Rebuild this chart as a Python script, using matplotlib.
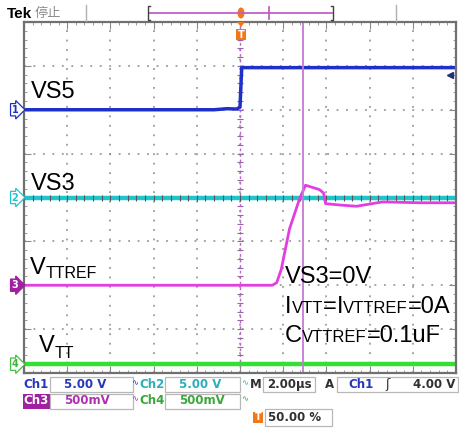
import numpy as np
import matplotlib.pyplot as plt
from matplotlib.patches import Rectangle, Ellipse, Polygon
from matplotlib.lines import Line2D

# scope settings
t_div = 2.0                      # us / div
ch1_scale, ch2_scale = 5.0, 5.0  # V / div
ch3_scale, ch4_scale = 0.5, 0.5
ch1_pos, ch2_pos, ch3_pos, ch4_pos = 2.0, 0.0, -2.0, -3.8   # div
trig_level = 4.0
cursor_t = 2.92

# traces, time in us, value in V
vs5_t = [-10, -1.2, -0.6, -0.15, 0.0, 0.08, 10]
vs5_v = [0.0, 0.0, 0.12, 0.08, 0.3, 4.8, 4.8]
vs3_t = [-10, 10]
vs3_v = [0.0, 0.0]
vttref_t = [-10, 1.5, 1.7, 1.91, 2.29, 2.75, 3.03, 3.29, 3.68, 3.87, 3.96, 4.6, 5.39, 6.6, 8.3, 10]
vttref_v = [0.0, 0.0, 0.03, 0.18, 0.64, 0.98, 1.14, 1.12, 1.09, 1.05, 0.93, 0.915, 0.90, 0.95, 0.94, 0.94]
vtt_t = [-10, 10]
vtt_v = [0.0, 0.0]

blue = '#1f30c8'
cyan = '#22c4cc'
mag = '#e23ee0'
green = '#33e033'
orange = '#f07818'

W, H = 460, 430
fig = plt.figure(figsize=(4.6, 4.3), dpi=100)

def fx(x):
    return x / W

def fy(y):
    return 1 - y / H

def ftext(x, y, s, **kw):
    return fig.text(fx(x), fy(y), s, **kw)

def frect(x0, y0, x1, y1, **kw):
    fig.add_artist(Rectangle((fx(x0), fy(y1)), (x1 - x0) / W, (y1 - y0) / H,
                             transform=fig.transFigure, **kw))

def fline(xs, ys, **kw):
    fig.add_artist(Line2D([fx(x) for x in xs], [fy(y) for y in ys],
                          transform=fig.transFigure, **kw))

def run_text(x, y, parts):
    # text pieces on one baseline, smaller pieces = subscripts
    r = fig.canvas.get_renderer()
    for s, size, dy in parts:
        t = ftext(x, y + dy, s, fontsize=size, family='Liberation Sans', va='baseline', ha='left')
        x += t.get_window_extent(r).width

ax = fig.add_axes([fx(24), fy(373), 432 / W, 351 / H])
ax.set_xlim(-5 * t_div, 5 * t_div)
ax.set_ylim(-4, 4)
ax.set_xticks(np.arange(-10, 10.01, 2))
ax.set_yticks(np.arange(-4, 4.01, 1))
minor_x = np.arange(-10, 10.01, 0.4)
minor_y = np.arange(-4, 4.01, 0.2)
ax.set_xticks(minor_x, minor=True)
ax.set_yticks(minor_y, minor=True)
ax.tick_params(which='both', direction='in', top=True, right=True,
               labelbottom=False, labelleft=False, color='#8a8a8a')
ax.tick_params(which='major', length=5)
ax.tick_params(which='minor', length=2.5)
ax.grid(which='major', color='#8a8a8a', linestyle=(0, (1.2, 5.0)), linewidth=1.1)
for s in ax.spines.values():
    s.set_color('#707070')
    s.set_linewidth(1.6)

# center graticule
ax.axvline(0, color='#b46cc4', lw=1.0, ls=(0, (2, 2)))
ax.plot(np.zeros_like(minor_y), minor_y, '_', ms=4, color='#a060b0', mew=0.8)

ax.plot(vs3_t, np.array(vs3_v) / ch2_scale + ch2_pos, color=cyan, lw=3.2)
ax.plot(minor_x, np.zeros_like(minor_x), '|', ms=4, color='#555555', mew=0.8)
ax.plot(vtt_t, np.array(vtt_v) / ch4_scale + ch4_pos, color=green, lw=3.2)
ax.plot(vs5_t, np.array(vs5_v) / ch1_scale + ch1_pos, color=blue, lw=2.5)
ax.plot(vttref_t, np.array(vttref_v) / ch3_scale + ch3_pos, color=mag, lw=2.0)
ax.axvline(cursor_t, color='#c67ad6', lw=1.3)

# trigger level arrow
ax.plot([9.72], [ch1_pos + trig_level / ch1_scale], marker='<', ms=5, color='#203070', clip_on=False)

# channel markers
markers = [('1', ch1_pos, blue, 'white', blue), ('2', ch2_pos, cyan, 'white', cyan),
           ('3', ch3_pos, '#a020a0', '#a020a0', 'white'), ('4', ch4_pos, '#40c040', 'white', '#40b040')]
for lab, pos, ec, fc, tc in markers:
    ax.annotate(lab, xy=(-10, pos), xytext=(-4, 0), textcoords='offset points',
                ha='right', va='center', fontsize=7, fontweight='bold', color=tc,
                annotation_clip=False,
                bbox=dict(boxstyle='rarrow,pad=0.12', fc=fc, ec=ec, lw=0.9))

# signal labels
run_text(31, 98.5, [('VS5', 17, 0)])
run_text(31, 189.5, [('VS3', 17, 0)])
run_text(30, 274, [('V', 17, 0), ('TTREF', 11.5, 4)])
run_text(39, 352.5, [('V', 17, 0), ('TT', 11.5, 5)])
run_text(285, 283.3, [('VS3=0V', 17, 0)])
run_text(285, 313.3, [('I', 17, 0), ('VTT', 12, 0), ('=', 17, 0), ('I', 17, 0), ('VTTREF', 12, 0), ('=0A', 17, 0)])
run_text(285, 341.7, [('C', 17, 0), ('VTTREF', 12, 0), ('=0.1uF', 17, 0)])

# header
ftext(7, 13.5, 'Tek', fontsize=11, fontweight='bold', family='Liberation Sans', va='center')
ftext(35, 13.5, '停止', fontsize=9.5, color='#8c8c8c', family=['Noto Sans CJK SC', 'DejaVu Sans'], va='center')
fline([86, 86], [5, 21], color='#b0b0b0', lw=1.0)
fline([396, 396], [5, 21], color='#b0b0b0', lw=1.0)
fline([149, 332], [13, 13], color='#c060c8', lw=1.3)
fline([269, 269], [7, 19], color='#c060c8', lw=1.3)
fline([150, 148, 148, 150], [6, 6, 20, 20], color='#404040', lw=1.0)
fline([331, 333, 333, 331], [6, 6, 20, 20], color='#404040', lw=1.0)
fig.add_artist(Ellipse((fx(241), fy(13)), 7 / W, 11 / H, transform=fig.transFigure,
                       fc=orange, ec='none'))
fig.add_artist(Polygon([(fx(237), fy(22)), (fx(245), fy(22)), (fx(241), fy(27))],
                       transform=fig.transFigure, fc=orange, ec='none'))
frect(236, 29, 246, 40, fc=orange, ec='none')
ftext(241, 34.5, 'T', fontsize=7, fontweight='bold', color='white', ha='center', va='center')

# status bar
sb = dict(fontsize=8.5, fontweight='bold', va='center')
bw = dict(fontsize=6, va='center', ha='center')
box = dict(fc='none', ec='#b8b8b8', lw=0.9)
r1, r2, r3 = 384.5, 401, 417.5
ftext(23, r1, 'Ch1', color='#2838b8', **sb)
frect(50, r1 - 7.5, 133, r1 + 7.5, **box)
ftext(85, r1, '5.00 V', color='#2838b8', ha='center', **sb)
ftext(135, r1 - 2, '∿', color='#2838b8', **bw)
ftext(139, r1, 'Ch2', color='#2cb0b8', **sb)
frect(165, r1 - 7.5, 240, r1 + 7.5, **box)
ftext(200, r1, '5.00 V', color='#2cb0b8', ha='center', **sb)
ftext(244.5, r1 - 2, '∿', color='#2cb0b8', **bw)
ftext(250, r1, 'M', color='#303030', **sb)
frect(263, r1 - 7.5, 315, r1 + 7.5, **box)
ftext(289, r1, '2.00µs', color='#303030', ha='center', **sb)
ftext(325, r1, 'A', color='#303030', **sb)
frect(337, r1 - 7.5, 458, r1 + 7.5, **box)
ftext(348, r1, 'Ch1', color='#2838b8', **sb)
ftext(387, r1, 'ʃ', color='#303030', ha='center', fontsize=9, va='center')
ftext(455, r1, '4.00 V', color='#303030', ha='right', **sb)

frect(23, r2 - 7.5, 50, r2 + 7.5, fc='#a020a0', ec='none')
ftext(36.5, r2, 'Ch3', color='white', ha='center', **sb)
frect(50, r2 - 7.5, 133, r2 + 7.5, **box)
ftext(87, r2, '500mV', color='#b030b0', ha='center', **sb)
ftext(135, r2 - 2, '∿', color='#b030b0', **bw)
ftext(139, r2, 'Ch4', color='#38a838', **sb)
frect(165, r2 - 7.5, 240, r2 + 7.5, **box)
ftext(202, r2, '500mV', color='#38a838', ha='center', **sb)
ftext(244.5, r2 - 2, '∿', color='#38a838', **bw)

frect(253, r3 - 5.5, 263, r3 + 5.5, fc=orange, ec='none')
ftext(258, r3, 'T', fontsize=7, fontweight='bold', color='white', ha='center', va='center')
frect(265, r3 - 8.5, 332, r3 + 8.5, **box)
ftext(295, r3, '50.00 %', color='#303030', ha='center', **sb)

fig.savefig('out.png', dpi=100)
